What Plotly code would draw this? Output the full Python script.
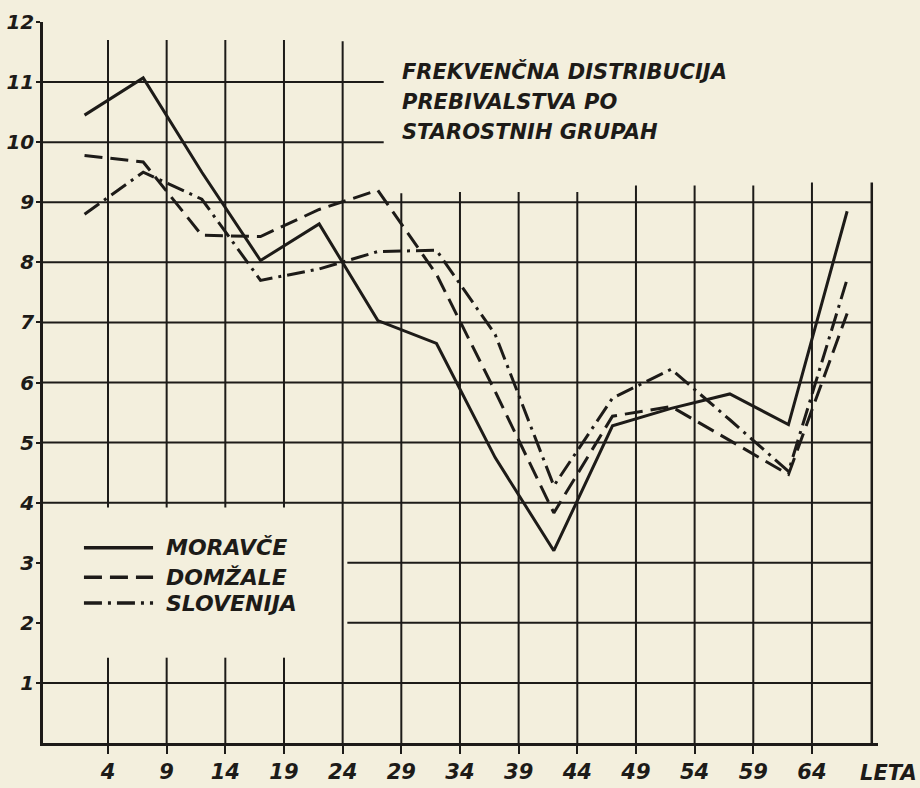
import plotly.graph_objects as go

# ---- data ----
age_mid = [2, 7, 12, 17, 22, 27, 32, 37, 42, 47, 52, 57, 62, 67]
tick_ages = [4, 9, 14, 19, 24, 29, 34, 39, 44, 49, 54, 59, 64]
y_ticks = [1, 2, 3, 4, 5, 6, 7, 8, 9, 10, 11, 12]

moravce = [10.45, 11.07, 9.5, 8.03, 8.64, 7.03, 6.65, 4.75, 3.2, 5.28, 5.57, 5.81, 5.3, 8.85]
domzale = [9.78, 9.67, 8.45, 8.43, 8.88, 9.2, 7.8, 5.85, 3.83, 5.44, 5.6, 5.03, 4.47, 7.15]
slovenija = [8.8, 9.5, 9.05, 7.7, 7.89, 8.18, 8.2, 6.8, 4.28, 5.74, 6.22, 5.38, 4.52, 7.72]

series_names = ["MORAVČE", "DOMŽALE", "SLOVENIJA"]
title_lines = ["FREKVENČNA DISTRIBUCIJA", "PREBIVALSTVA PO", "STAROSTNIH GRUPAH"]
x_unit_label = "LETA"

# ---- styles ----
INK = "#1d1b18"
PAPER = "#f3efdd"
FONT = "DejaVu Sans"
dashes = ["solid", "18px,8px", "18px,6px,3px,6px"]
LW = 3

XMIN, XMAX = -1.54, 69.63
XRIGHT = 69.1

fig = go.Figure()
for name, vals, d in zip(series_names, [moravce, domzale, slovenija], dashes):
    fig.add_trace(go.Scatter(x=age_mid, y=vals, mode="lines", name=name,
                             line=dict(color=INK, width=LW, dash=d),
                             showlegend=False))

shapes = []
def seg(x0, y0, x1, y1, w=2, dash="solid"):
    shapes.append(dict(type="line", xref="x", yref="y", x0=x0, y0=y0, x1=x1, y1=y1,
                       line=dict(color=INK, width=w, dash=dash), layer="below"))

# horizontal grid (hand-drawn extents)
for yv in [10, 11]:
    seg(XMIN, yv, 27.5, yv)
for yv in [1, 4, 5, 6, 7, 8, 9]:
    seg(XMIN, yv, XRIGHT, yv)
for yv in [2, 3]:
    seg(24.4, yv, XRIGHT, yv)
# vertical grid
for xv in [4, 9, 14, 19]:
    seg(xv, -0.1, xv, 1.42)
    seg(xv, 3.92, xv, 11.7)
seg(24, 0, 24, 11.68)
for xv, top in zip([29, 34, 39, 44, 49, 54, 59, 64], [9.15, 9.17, 9.17, 9.17, 9.28, 9.28, 9.28, 9.33]):
    seg(xv, 0, xv, top)
seg(XRIGHT, 0, XRIGHT, 9.33, w=2.5)

# legend samples
leg_y = [3.25, 2.76, 2.33]
for yv, d in zip(leg_y, dashes):
    seg(1.95, yv, 7.84, yv, w=LW + 0.5, dash=d)

annotations = []
for yv, name in zip(leg_y, series_names):
    annotations.append(dict(x=8.75, y=yv, xref="x", yref="y", text=name, showarrow=False,
                            xanchor="left", yanchor="middle",
                            font=dict(family=FONT, size=22, color=INK, weight="bold", style="italic")))
for yv, t in zip([11.17, 10.67, 10.17], title_lines):
    annotations.append(dict(x=28.9, y=yv, xref="x", yref="y", text=t, showarrow=False,
                            xanchor="left", yanchor="middle",
                            font=dict(family=FONT, size=21, color=INK, weight="bold", style="italic")))
annotations.append(dict(x=1.012, y=-0.042, xref="paper", yref="paper", text=x_unit_label,
                        showarrow=False, xanchor="center", yanchor="middle",
                        font=dict(family=FONT, size=21, color=INK, weight="bold", style="italic")))

xtickfont = dict(family=FONT, size=21, color=INK, weight="bold", style="italic")
ytickfont = dict(family=FONT, size=20, color=INK, weight="bold", style="italic")
fig.update_layout(
    width=920, height=788, autosize=False,
    margin=dict(l=43, r=42, t=22, b=45),
    paper_bgcolor=PAPER, plot_bgcolor=PAPER,
    shapes=shapes, annotations=annotations,
    xaxis=dict(range=[XMIN, XMAX], tickvals=tick_ages, ticktext=[str(v) for v in tick_ages],
               showgrid=False, zeroline=False, showline=True, linecolor=INK, linewidth=2.5,
               ticks="outside", ticklen=8, tickwidth=2, tickcolor=INK, tickfont=xtickfont,
               automargin=False, fixedrange=True),
    yaxis=dict(range=[0, 12], tickvals=y_ticks, ticktext=[str(v) for v in y_ticks],
               showgrid=False, zeroline=False, showline=True, linecolor=INK, linewidth=2.5,
               ticks="outside", ticklen=4, tickwidth=2, tickcolor=INK, tickfont=ytickfont,
               ticklabelstandoff=-2, automargin=False, fixedrange=True),
)

fig.write_html("out.html", config={"displayModeBar": False},
               post_script="document.body.style.margin='0';document.body.style.padding='0';"
                           "document.body.style.overflow='hidden';")
